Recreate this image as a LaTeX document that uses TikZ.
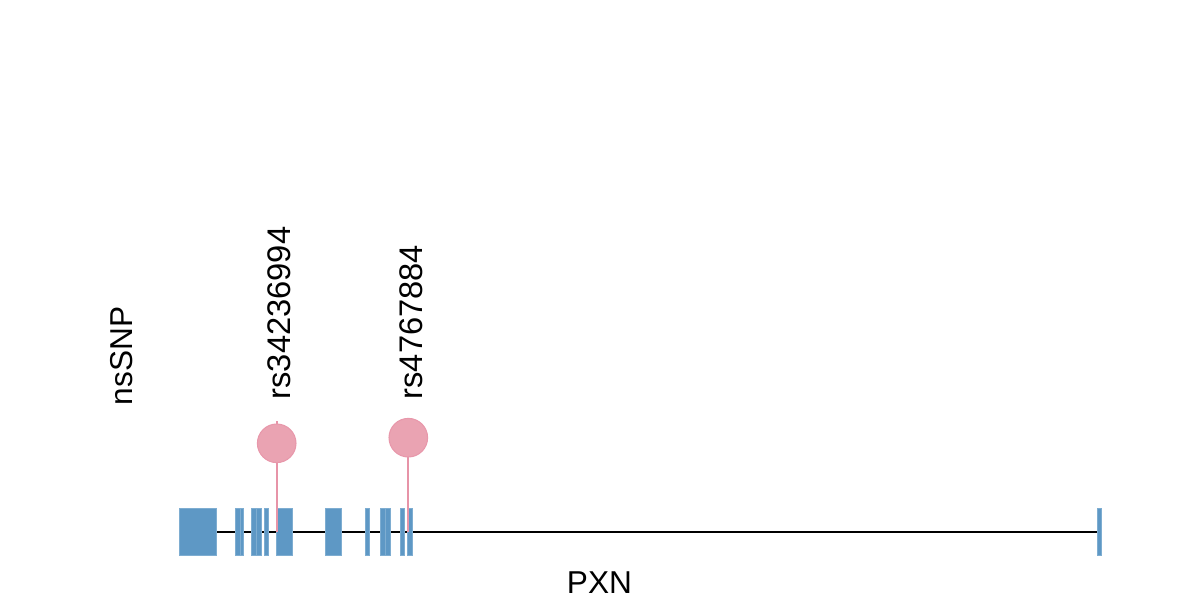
\documentclass[tikz,border=0pt]{standalone}
\usepackage{fontspec}
\setsansfont{Liberation Sans}
\usetikzlibrary{backgrounds}
\usepackage{xcolor}
\definecolor{ExonBlue}{RGB}{94,152,197}
\definecolor{SnpPink}{RGB}{234,163,178}
\definecolor{StickPink}{RGB}{231,148,168}
\tikzset{
  exon/.style={rectangle,fill=ExonBlue,draw=ExonBlue!80!white,line width=0.2pt,
               inner sep=0pt,minimum height=4.67mm},
  gline/.style={black,line width=0.55pt},
  stick/.style={StickPink,line width=0.6pt},
  snp/.style={circle,fill=SnpPink,draw=StickPink!70!SnpPink,line width=0.3pt,
              inner sep=0pt,minimum size=3.86mm},
  lbl/.style={font=\sffamily\fontsize{9}{11}\selectfont,inner sep=0pt},
  snplbl/.style={lbl,font=\sffamily\fontsize{9.3}{11}\selectfont,rotate=90,anchor=west},
}

\begin{document}
\begin{tikzpicture}[x=0.1mm,y=-0.1mm]
    \useasboundingbox (0,0) rectangle (1200,600);
    % exons
    \foreach \l/\r [count=\i] in {179/216,235/240,240.5/243.5,251.5/256,256.5/261,
        264/268,276/292,325/341,365/369,380/385,385.5/390,400/404,407/412.5,1097/1101}
      \node[exon,minimum width={(\r-\l)*0.1mm}] (e\i) at ({(\l+\r)/2},531.7) {};
    \begin{pgfonlayer}{background}
      \draw[gline] (e1.east) -- (e14.west);
    \end{pgfonlayer}
    % nsSNP lollipops
    \coordinate (b1) at (276.7,531.7);
    \coordinate (t1) at (276.7,421);
    \coordinate (b2) at (408.3,531.7);
    \coordinate (t2) at (408.3,420);
    \draw[stick] (b1) -- (t1);
    \draw[stick] (b2) -- (t2);
    \node[snp] (s1) at (276.7,443.3) {};
    \node[snp] (s2) at (408.3,437.7) {};
    % labels
    \node[snplbl] (n1) at (279.5,400) {rs34236994};
    \node[snplbl] (n2) at (411,400) {rs4767884};
    \node[lbl,rotate=90] (track) at (122,356) {nsSNP};
    \node[lbl,anchor=base] (gene) at (599.5,593.3) {PXN};
\end{tikzpicture}
\end{document}
